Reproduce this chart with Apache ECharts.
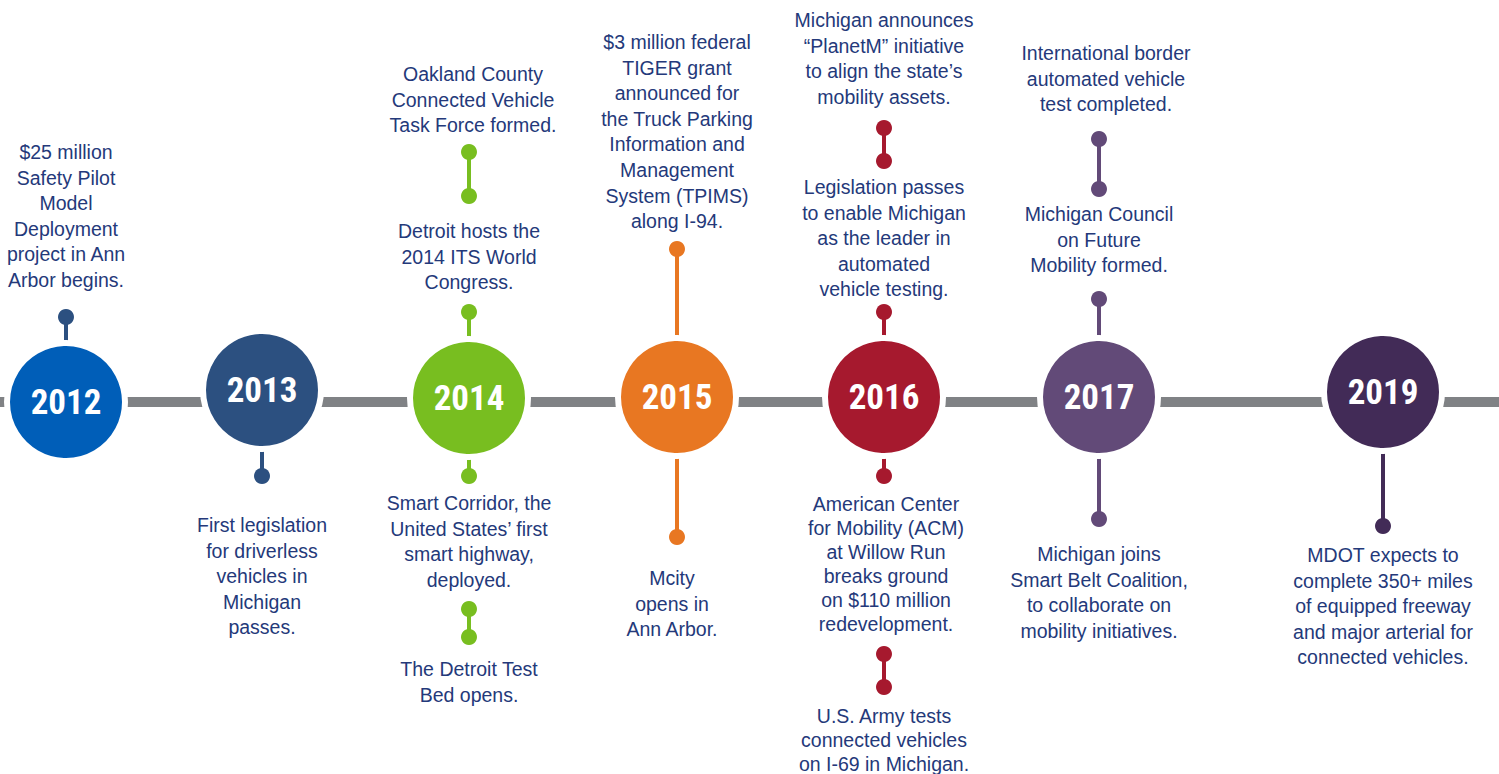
<!DOCTYPE html>
<html>
<head>
<meta charset="utf-8">
<title>Michigan connected and automated vehicle timeline</title>
<script src="https://cdn.jsdelivr.net/npm/echarts@6/dist/echarts.min.js"></script>
<style>
  html, body { margin: 0; padding: 0; background: #fff; }
  #main { width: 1499px; height: 774px; }
</style>
</head>
<body>
<div id="main"></div>
<script>
"use strict";
// milestones along the timeline (x / y, in page units)
var years = ['2012', '2013', '2014', '2015', '2016', '2017', '2019'];
var yearX = [66, 262, 469, 677, 884, 1099, 1383];
var yearY = [402, 390, 398, 397, 397, 397, 392];

// stems: [year index, from y, to y, dot at from, dot at to]
var stems = [
    [0, 317, 350, 1, 0],
    [1, 440, 476, 0, 1],
    [2, 152, 196, 1, 1],
    [2, 312, 350, 1, 0],
    [2, 450, 476, 0, 1],
    [2, 609, 637, 1, 1],
    [3, 249, 350, 1, 0],
    [3, 450, 537, 0, 1],
    [4, 128, 161, 1, 1],
    [4, 312, 350, 1, 0],
    [4, 450, 476, 0, 1],
    [4, 654, 687, 1, 1],
    [5, 139, 189, 1, 1],
    [5, 299, 350, 1, 0],
    [5, 450, 519, 0, 1],
    [6, 440, 526, 0, 1]
];

// events: [centre x, first line y, line step, text]
var events = [
    [66, 152, 25.6, '$25 million\nSafety Pilot\nModel\nDeployment\nproject in Ann\nArbor begins.'],
    [262, 525, 25.6, 'First legislation\nfor driverless\nvehicles in\nMichigan\npasses.'],
    [473, 74, 25.6, 'Oakland County\nConnected Vehicle\nTask Force formed.'],
    [469, 231, 25.6, 'Detroit hosts the\n2014 ITS World\nCongress.'],
    [469, 503, 25.6, 'Smart Corridor, the\nUnited States\u2019 first\nsmart highway,\ndeployed.'],
    [469, 669, 25.6, 'The Detroit Test\nBed opens.'],
    [677, 42, 25.6, '$3 million federal\nTIGER grant\nannounced for\nthe Truck Parking\nInformation and\nManagement\nSystem (TPIMS)\nalong I-94.'],
    [672, 578, 25.6, 'Mcity\nopens in\nAnn Arbor.'],
    [884, 20, 25.6, 'Michigan announces\n\u201cPlanetM\u201d initiative\nto align the state\u2019s\nmobility assets.'],
    [884, 187, 25.6, 'Legislation passes\nto enable Michigan\nas the leader in\nautomated\nvehicle testing.'],
    [886, 504, 24, 'American Center\nfor Mobility (ACM)\nat Willow Run\nbreaks ground\non $110 million\nredevelopment.'],
    [884, 716, 24, 'U.S. Army tests\nconnected vehicles\non I-69 in Michigan.'],
    [1106, 53, 25.6, 'International border\nautomated vehicle\ntest completed.'],
    [1099, 214, 25.6, 'Michigan Council\non Future\nMobility formed.'],
    [1099, 554, 25.6, 'Michigan joins\nSmart Belt Coalition,\nto collaborate on\nmobility initiatives.'],
    [1383, 555, 25.6, 'MDOT expects to\ncomplete 350+ miles\nof equipped freeway\nand major arterial for\nconnected vehicles.']
];

var palette = ['#005EB8', '#2C5080', '#78BE20', '#E87722', '#A6192E', '#624A78', '#422B57'];
// the 2012 stem is drawn in the darker navy, not the circle blue
var stemPalette = ['#2C5080', '#2C5080', '#78BE20', '#E87722', '#A6192E', '#624A78', '#422B57'];
var textColor = '#24397A';

var dom = document.getElementById('main');
var myChart = echarts.init(dom, null, { renderer: 'svg' });

var option = {
    animation: false,
    backgroundColor: '#ffffff',
    grid: { left: 0, right: 0, top: 0, bottom: 0 },
    xAxis: { type: 'value', min: 0, max: 1499, show: false },
    yAxis: { type: 'value', min: 0, max: 774, inverse: true, show: false },
    series: [
        {
            // grey timeline bar
            type: 'line',
            data: [[0, 402], [1499, 402]],
            symbol: 'none',
            silent: true,
            lineStyle: { color: '#808285', width: 10 },
            z: 1
        },
        {
            type: 'custom',
            data: stems,
            silent: true,
            z: 2,
            renderItem: function (params, api) {
                var s = stems[params.dataIndex];
                var c = stemPalette[s[0]];
                var p1 = api.coord([yearX[s[0]], s[1]]);
                var p2 = api.coord([yearX[s[0]], s[2]]);
                var kids = [{
                    type: 'line',
                    shape: { x1: p1[0], y1: p1[1], x2: p2[0], y2: p2[1] },
                    style: { stroke: c, lineWidth: 4 }
                }];
                if (s[3]) kids.push({ type: 'circle', shape: { cx: p1[0], cy: p1[1], r: 8 }, style: { fill: c } });
                if (s[4]) kids.push({ type: 'circle', shape: { cx: p2[0], cy: p2[1], r: 8 }, style: { fill: c } });
                return { type: 'group', children: kids };
            }
        },
        {
            type: 'scatter',
            data: years.map(function (y, i) { return [yearX[i], yearY[i]]; }),
            symbol: 'circle',
            symbolSize: 118,
            silent: true,
            z: 3,
            itemStyle: {
                color: function (p) { return palette[p.dataIndex]; },
                borderColor: '#ffffff',
                borderWidth: 6,
                opacity: 1
            },
            label: {
                show: true,
                position: 'inside',
                formatter: function (p) { return years[p.dataIndex]; },
                color: '#ffffff',
                fontSize: 35,
                fontWeight: 'bold',
                fontFamily: "'Roboto Condensed', 'Liberation Sans Narrow', 'DejaVu Sans Condensed', sans-serif"
            }
        },
        {
            type: 'custom',
            data: events,
            silent: true,
            z: 4,
            renderItem: function (params, api) {
                var e = events[params.dataIndex];
                var p = api.coord([e[0], e[1]]);
                return {
                    type: 'text',
                    x: p[0],
                    y: p[1] - e[2] / 2,
                    style: {
                        text: e[3],
                        fill: textColor,
                        fontSize: 19.5,
                        fontFamily: "'Liberation Sans', Arial, sans-serif",
                        lineHeight: e[2],
                        align: 'center',
                        verticalAlign: 'top'
                    }
                };
            }
        }
    ]
};

myChart.setOption(option, true);
</script>
</body>
</html>
